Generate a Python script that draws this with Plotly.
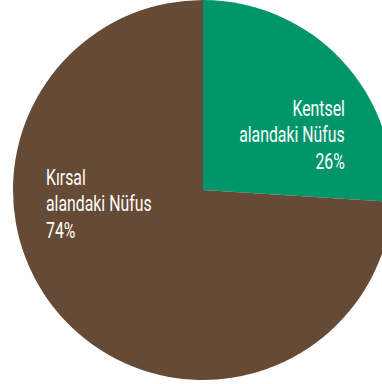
import plotly.graph_objects as go

# Urban / rural population share
labels = ["Kentsel alandaki Nüfus", "Kırsal alandaki Nüfus"]
label_lines = [["Kentsel", "alandaki Nüfus"], ["Kırsal", "alandaki Nüfus"]]
values = [26, 74]
colors = ["#00966A", "#654A35"]

W, H = 410, 384
FONT = "Roboto, DejaVu Sans Condensed, sans-serif"
FS = 22

fig = go.Figure(
    go.Pie(
        labels=labels,
        values=values,
        marker=dict(colors=colors, line=dict(width=0)),
        sort=False,
        direction="clockwise",
        rotation=0,
        textinfo="none",
        hoverinfo="label+percent",
        showlegend=False,
        domain=dict(x=[13 / W, 393 / W], y=[4 / H, 1.0]),
    )
)

total = sum(values)
# label blocks: x px of aligned edge, baseline px of first line, anchor
placements = [(346, 116, "right"), (45, 185, "left")]
LINE_GAP = 26.5
for lines, v, (px, base, anchor) in zip(label_lines, values, placements):
    rows = lines + [f"{round(100 * v / total)}%"]
    for i, row in enumerate(rows):
        py = base + i * LINE_GAP - 0.35 * FS
        fig.add_annotation(
            x=px / W, y=(H - py) / H, xref="paper", yref="paper",
            xanchor=anchor, yanchor="middle", align=anchor,
            text=row, showarrow=False, borderpad=0,
            font=dict(family=FONT, size=FS, color="white", weight=400),
        )

fig.update_layout(
    width=W, height=H,
    margin=dict(l=0, r=0, t=0, b=0),
    paper_bgcolor="white", plot_bgcolor="white",
)

# condensed look for the slice labels, anchored on their aligned edge
post = """
document.body.style.overflow = 'hidden';
document.body.style.margin = '0';
document.querySelectorAll('text.annotation-text').forEach(function (t) {
  var end = t.getAttribute('text-anchor') === 'end';
  t.style.transformBox = 'fill-box';
  t.style.transformOrigin = end ? 'right center' : 'left center';
  t.style.transform = 'scaleX(0.72)';
});
"""

fig.write_html("out.html", post_script=post)
